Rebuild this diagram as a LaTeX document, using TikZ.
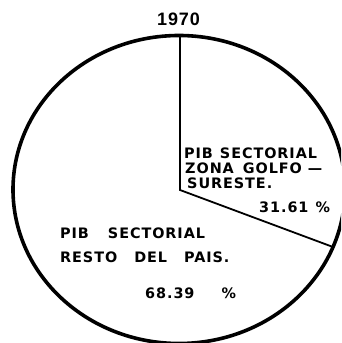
\documentclass[tikz,border=0pt]{standalone}
\usepackage{fontspec}
\setmainfont{DejaVu Sans}
\newfontfamily\piefont[LetterSpace=6.5]{DejaVu Sans}
\newfontfamily\yearfont[LetterSpace=5]{Liberation Sans}
\tikzset{
    lbl/.style={anchor=base west, inner sep=0pt, font=\piefont\bfseries\fontsize{14.4}{15}\selectfont},
}
\begin{document}
\begin{tikzpicture}[x=1pt, y=1pt]
    \clip (0, 0) rectangle (341, 343);
    \draw[black, line width=3.6pt] (179, 153.5) ellipse [x radius=166, y radius=154];
    \coordinate (ctr) at (180, 153);
    \coordinate (top) at (180, 308);
    \coordinate (rim) at (333, 96);
    \draw[black, line width=1.8pt] (top) -- (ctr) -- (rim);
    \node[anchor=base west, inner sep=0pt, font=\yearfont\bfseries\fontsize{18}{18}\selectfont] (year) at (157, 317) {1970};
    \node[lbl] (zone1) at (184, 184) {PIB\hspace{7pt}SECTORIAL};
    \node[lbl] (zone2) at (185, 169) {ZONA\hspace{9pt}GOLFO\hspace{6pt}—};
    \node[lbl] (zone3) at (187, 154) {SURESTE.};
    \node[lbl] (zonepct) at (259, 130) {31.61\hspace{7pt}\%};
    \node[lbl] (rest1) at (60, 104) {PIB\hspace{19pt}SECTORIAL};
    \node[lbl] (rest2) at (60, 80) {RESTO\hspace{17pt}DEL\hspace{17pt}PAIS.};
    \node[lbl] (restpct) at (145, 45) {68.39\hspace{27pt}\%};
\end{tikzpicture}
\end{document}
